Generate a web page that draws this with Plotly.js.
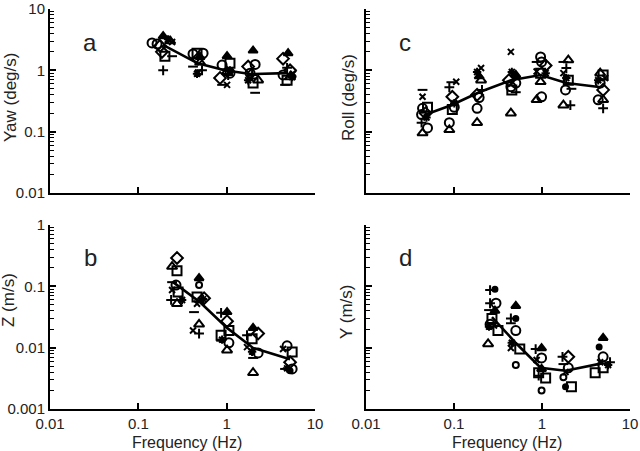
<!DOCTYPE html>
<html>
<head>
<meta charset="utf-8">
<script src="https://cdn.plot.ly/plotly-3.0.1.min.js"></script>
<style>html,body{margin:0;padding:0;background:#fff;overflow:hidden;}#chart{width:640px;height:451px;}</style>
</head>
<body>
<div id="chart"></div>
<script>
// ---------- DATA ----------
// Panel a: Yaw (deg/s)
const aMeanX = [0.19, 0.47, 0.95, 1.85, 4.8];
const aMeanY = [2.6, 1.3, 1.0, 0.87, 0.9];
const aX = [0.143,0.163,0.185,0.200,0.191,0.217,0.241,0.191,0.229,0.176,0.241,
            0.541,0.462,0.474,0.500,0.474,0.526,0.416,0.462,0.500,0.416,
            1.01,0.887,1.09,0.841,1.01,0.887,1.04,1.09,1.01,1.09,
            1.99,2.10,1.75,1.99,2.27,2.10,1.84,1.94,1.75,1.84,
            4.96,4.35,4.35,4.83,5.51,5.22,4.58,5.65,4.83,5.22];
const aY = [2.8,2.7,2.0,1.7,3.6,3.2,2.9,1.0,3.0,2.5,1.7,
            1.9,1.9,1.55,1.65,0.92,1.0,1.15,0.88,1.35,1.85,
            1.7,1.22,1.3,0.75,0.58,0.58,0.84,1.0,0.95,0.9,
            2.1,1.25,1.15,0.62,0.69,0.43,0.75,0.84,0.69,0.9,
            1.9,1.55,0.84,1.1,0.78,0.78,0.58,0.88,0.69,1.0];
const aS = ['o','o','d','s','T','*','x','+','t','d','-',
            'o','s','d','T','x','+','-','*','t','o',
            'T','o','s','d','x','-','+','*','t','o',
            'T','o','d','s','t','-','x','+','*','o',
            'T','d','o','+','*','t','-','x','s','d'];

// Panel b: Z (m/s)
const bMeanX = [0.247, 0.5, 1.01, 1.99, 5.22];
const bMeanY = [0.117, 0.055, 0.021, 0.0099, 0.0065];
const bX = [0.274,0.241,0.274,0.241,0.267,0.241,0.282,0.235,0.274,0.313,
            0.487,0.487,0.462,0.555,0.462,0.427,0.487,0.416,0.487,0.541,
            0.865,1.01,1.01,1.06,0.865,1.06,1.01,0.865,0.887,
            1.99,2.27,1.70,1.94,1.70,2.27,1.94,1.99,1.99,
            4.83,4.35,5.51,5.22,5.51,4.83,4.58,5.22];
const bY = [0.29,0.21,0.18,0.117,0.105,0.087,0.081,0.06,0.052,0.06,
            0.136,0.105,0.067,0.064,0.052,0.038,0.024,0.019,0.017,0.062,
            0.037,0.038,0.027,0.019,0.016,0.012,0.0091,0.013,0.0135,
            0.021,0.017,0.016,0.014,0.0102,0.0082,0.0086,0.0068,0.0039,
            0.0107,0.0095,0.0085,0.0058,0.0045,0.0046,0.0045,0.0042];
const bS = ['d','t','s','-','o','x','s','+','t','*',
            'T','c','s','d','x','-','t','x','+','*',
            '+','T','d','s','s','o','t','-','*',
            'T','d','+','s','x','o','*','-','t',
            'o','x','s','d','o','*','-','.'];

// Panel c: Roll (deg/s)
const cMeanX = [0.046, 0.093, 0.193, 0.443, 0.964, 1.89, 4.70];
const cMeanY = [0.187, 0.27, 0.44, 0.69, 0.84, 0.62, 0.53];
const cX = [0.0439,0.0439,0.050,0.0439,0.0475,0.050,0.0439,0.0487,0.0428,0.0428,
            0.0933,0.106,0.0885,0.0957,0.0957,0.0885,0.0885,0.1007,0.1007,
            0.203,0.183,0.203,0.183,0.193,0.183,0.183,0.208,0.193,
            0.443,0.454,0.504,0.443,0.454,0.504,0.443,0.420,0.504,
            0.964,0.869,0.989,0.964,1.10,0.964,0.869,0.989,0.869,1.10,
            1.99,1.75,1.89,1.75,1.99,1.85,1.75,2.10,2.16,1.89,
            4.58,4.95,4.58,4.95,4.35,4.95,4.95,4.35,5.21];
const cY = [0.48,0.37,0.25,0.24,0.2,0.115,0.095,0.17,0.14,0.19,
            0.64,0.65,0.53,0.37,0.23,0.14,0.107,0.29,0.25,
            1.09,0.94,0.69,0.4,0.36,0.24,0.14,0.48,0.8,
            2.0,0.94,0.84,0.54,0.48,0.44,0.2,0.69,0.62,
            1.65,1.37,1.37,0.9,0.9,0.65,0.33,0.37,0.96,1.2,
            1.47,1.37,1.09,0.9,0.69,0.48,0.27,0.27,0.5,0.75,
            0.9,0.84,0.62,0.48,0.33,0.33,0.24,0.69,0.75];
const cS = ['-','x','s','o','d','o','t','*','+','o',
            '-','x','+','d','s','o','t','*','o',
            'x','*','t','d','o','o','t','+','T',
            'x','*','T','o','s','-','t','d','o',
            'o','-','o','s','*','t','t','o','x','d',
            't','-','+','x','s','o','t','+','-','*',
            't','s','o','d','o','t','+','*','x'];

// Panel d: Y (m/s)
const dMeanX = [0.27, 0.504, 0.964, 1.85, 4.95];
const dMeanY = [0.0316, 0.0119, 0.0047, 0.0042, 0.0056];
const dX = [0.257,0.292,0.257,0.300,0.250,0.292,0.270,0.257,0.285,0.316,0.244,0.250,
            0.504,0.443,0.504,0.443,0.504,0.454,0.443,0.559,0.504,
            0.847,0.989,0.989,0.869,0.916,0.989,1.10,0.989,0.916,
            1.71,1.99,1.75,1.99,1.85,1.75,2.16,1.85,
            4.95,4.46,4.95,4.58,5.64,4.95,4.02,5.93];
const dY = [0.087,0.09,0.053,0.053,0.041,0.040,0.030,0.024,0.023,0.019,0.0115,0.022,
            0.048,0.030,0.030,0.025,0.019,0.012,0.0099,0.0095,0.0052,
            0.0095,0.0098,0.0068,0.0063,0.0039,0.0045,0.0032,0.002,0.0035,
            0.0071,0.0071,0.0054,0.0047,0.0040,0.0033,0.0023,0.0023,
            0.0144,0.0103,0.0071,0.0058,0.0052,0.0047,0.0039,0.0058];
const dS = ['+','.','+','o','-','T','s','o','x','s','t','*',
            'T','+','.','-','o','*','x','s','c',
            '+','T','o','x','s','T','s','c','+',
            '+','d','-','o','x','c','s','.',
            'T','.','o','x','*','s','s','+'];

// Axis tick labels
const xTickVals = [0.01, 0.1, 1, 10];
const xTickText = ['0.01', '0.1', '1', '10'];
const yTopVals = [0.01, 0.1, 1, 10];
const yTopText = ['0.01', '0.1', '1', '10'];
const yBotVals = [0.001, 0.01, 0.1, 1];
const yBotText = ['0.001', '0.01', '0.1', '1'];

// ---------- STYLE ----------
const FONT = 'Liberation Sans, Arial, Helvetica, sans-serif';
const symMap = {
  'o': ['circle-open', 9], 's': ['square-open', 9], 'd': ['diamond-open', 9],
  't': ['triangle-up-open', 9], 'T': ['triangle-up', 8], 'x': ['x-thin-open', 6],
  '+': ['cross-thin-open', 7], '-': ['line-ew-open', 7], '*': ['asterisk-open', 7],
  '.': ['circle', 5], 'c': ['circle-open', 6]
};

function scatter(xs, ys, ss, xa, ya) {
  return {
    type: 'scatter', mode: 'markers', x: xs, y: ys, xaxis: xa, yaxis: ya,
    showlegend: false, hoverinfo: 'skip',
    marker: {
      symbol: ss.map(s => symMap[s][0]),
      size: ss.map(s => symMap[s][1]),
      color: '#000', opacity: 1,
      line: {color: '#000', width: 2}
    }
  };
}
function meanLine(xs, ys, xa, ya) {
  return {type: 'scatter', mode: 'lines', x: xs, y: ys, xaxis: xa, yaxis: ya,
    showlegend: false, hoverinfo: 'skip', line: {color: '#000', width: 2.6}};
}

const traces = [
  scatter(aX, aY, aS, 'x', 'y'), meanLine(aMeanX, aMeanY, 'x', 'y'),
  scatter(cX, cY, cS, 'x2', 'y2'), meanLine(cMeanX, cMeanY, 'x2', 'y2'),
  scatter(bX, bY, bS, 'x3', 'y3'), meanLine(bMeanX, bMeanY, 'x3', 'y3'),
  scatter(dX, dY, dS, 'x4', 'y4'), meanLine(dMeanX, dMeanY, 'x4', 'y4')
];

// log minor tick positions (2..9 within each decade)
function minorVals(vals) {
  const out = [];
  for (let i = 0; i < vals.length - 1; i++) for (let k = 2; k <= 9; k++) out.push(vals[i] * k);
  return out;
}

const L = [50/640, 315/640], R = [366/640, 630/640];
const T = [1 - 193/451, 1 - 9/451], B = [1 - 409/451, 1 - 225/451];

function xax(dom, anchor, labels) {
  return {type: 'log', domain: dom, anchor: anchor, range: [-2, 1],
    tickmode: 'array', tickvals: xTickVals, ticktext: xTickText,
    showticklabels: labels, ticks: 'inside', ticklen: 6, tickwidth: 2, tickcolor: '#000',
    ticklabeloverflow: 'allow',
    showline: true, linecolor: '#000', linewidth: 2, showgrid: false, zeroline: false,
    tickfont: {family: FONT, size: 15, color: '#222'}};
}
function yax(dom, anchor, vals, text, range, labels) {
  return {type: 'log', domain: dom, anchor: anchor, range: range,
    tickmode: 'array', tickvals: vals, ticktext: text,
    showticklabels: labels, ticks: 'inside', ticklen: 6, tickwidth: 2, tickcolor: '#000',
    minor: {tickmode: 'array', tickvals: minorVals(vals), ticks: 'inside', ticklen: 4,
            tickwidth: 1.3, tickcolor: '#000', showgrid: false},
    ticklabeloverflow: 'allow',
    showline: true, linecolor: '#000', linewidth: 2, showgrid: false, zeroline: false,
    tickfont: {family: FONT, size: 15, color: '#222'}};
}

function ann(text, x, y, size, angle) {
  return {text: text, x: x / 640, y: 1 - y / 451, xref: 'paper', yref: 'paper',
    showarrow: false, xanchor: 'center', yanchor: 'middle', textangle: angle || 0,
    font: {family: FONT, size: size, color: '#222'}};
}

const layout = {
  width: 640, height: 451,
  margin: {l: 0, r: 0, t: 0, b: 0},
  paper_bgcolor: '#fff', plot_bgcolor: '#fff',
  showlegend: false,
  xaxis: xax(L, 'y', false),
  yaxis: yax(T, 'x', yTopVals, yTopText, [-2, 1], true),
  xaxis2: xax(R, 'y2', false),
  yaxis2: yax(T, 'x2', yTopVals, yTopText, [-2, 1], false),
  xaxis3: xax(L, 'y3', true),
  yaxis3: yax(B, 'x3', yBotVals, yBotText, [-3, 0], true),
  xaxis4: xax(R, 'y4', true),
  yaxis4: yax(B, 'x4', yBotVals, yBotText, [-3, 0], false),
  annotations: [
    ann('a', 90, 42, 24), ann('c', 405, 42, 24),
    ann('b', 90, 257, 24), ann('d', 405, 257, 24),
    ann('Yaw (deg/s)', 10, 98, 17, -90),
    ann('Roll (deg/s)', 348, 98, 17, -90),
    ann('Z (m/s)', 8, 300, 17, -90),
    ann('Y (m/s)', 346, 312, 17, -90),
    ann('Frequency (Hz)', 187, 442, 16),
    ann('Frequency (Hz)', 507, 442, 16)
  ]
};

Plotly.newPlot('chart', traces, layout, {displayModeBar: false}).then(() => {
  // the last x tick label sits at the very edge of the page; keep Plotly's own label visible
  document.querySelectorAll('g.xtick text, g.x2tick text, g.x3tick text, g.x4tick text').forEach(t => {
    let n = t;
    while (n && n.getAttribute && n.id !== 'chart') {
      if (n.style) { if (n.style.display === 'none') n.style.display = ''; if (n.style.opacity === '0') n.style.opacity = '1'; }
      if (n.getAttribute('display') === 'none') n.removeAttribute('display');
      if (n.getAttribute('opacity') === '0') n.setAttribute('opacity', '1');
      n = n.parentNode;
    }
  });
});
</script>
</body>
</html>
